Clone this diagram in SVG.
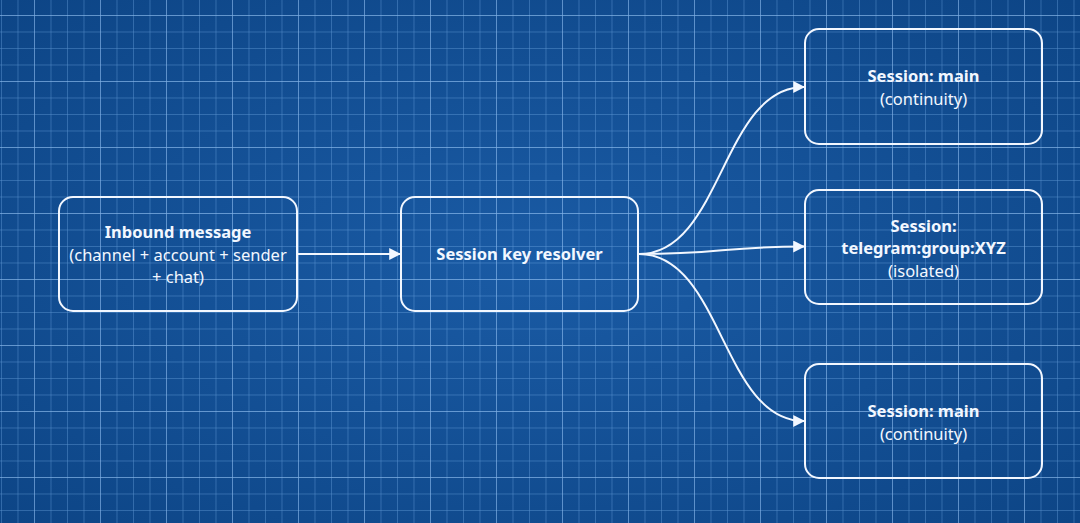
<svg xmlns="http://www.w3.org/2000/svg" width="1080" height="523" viewBox="0 0 1080 523">
  <defs>
    <radialGradient id="bg" cx="50%" cy="50%" r="70%">
      <stop offset="0" stop-color="#1a5ba5"/>
      <stop offset="1" stop-color="#0d4586"/>
    </radialGradient>
    <pattern id="minor" x="1" y="-1.5" width="16.5" height="16.5" patternUnits="userSpaceOnUse">
      <path d="M0,0 V16.5 M0,0 H16.5" fill="none" stroke="#86bcf5" stroke-opacity="0.6" stroke-width="1"/>
    </pattern>
    <pattern id="major" x="34" y="15" width="66" height="66" patternUnits="userSpaceOnUse">
      <path d="M0,0 V66 M0,0 H66" fill="none" stroke="#a6cffa" stroke-opacity="0.55" stroke-width="1.3"/>
    </pattern>
    <marker id="arrow" viewBox="0 0 10 10" refX="9" refY="5" markerWidth="12" markerHeight="12" markerUnits="userSpaceOnUse" orient="auto">
      <path d="M0,0 L10,5 L0,10 Z" fill="#f2f7ff"/>
    </marker>
    <style>
      .box { fill: none; stroke: #f2f7ff; stroke-width: 2; }
      .t { font-family: "Noto Sans", "Open Sans", sans-serif; font-size: 16.5px; fill: #f2f7ff; text-anchor: middle; }
      .b { font-weight: bold; }
      .edge { fill: none; stroke: #f2f7ff; stroke-width: 2; marker-end: url(#arrow); }
    </style>
  </defs>
  <rect width="1080" height="523" fill="url(#bg)"/>
  <rect width="1080" height="523" fill="url(#minor)"/>
  <rect width="1080" height="523" fill="url(#major)"/>

  <g id="connectors">
    <path class="edge" d="M297,254 L400,254"/>
    <path class="edge" d="M639,254 C722,254 722,87 804,87"/>
    <path class="edge" d="M639,254 C722,254 722,246.5 804,246.5"/>
    <path class="edge" d="M639,254 C722,254 722,421 804,421"/>
  </g>

  <g id="inbound">
    <rect class="box" x="59" y="197" width="238" height="114" rx="14"/>
    <text class="t b" x="178" y="238">Inbound message</text>
    <text class="t" x="178" y="261">(channel + account + sender</text>
    <text class="t" x="178" y="283">+ chat)</text>
  </g>

  <g id="resolver">
    <rect class="box" x="401" y="197" width="237" height="114" rx="14"/>
    <text class="t b" x="519.5" y="260">Session key resolver</text>
  </g>

  <g id="session-main-top">
    <rect class="box" x="805" y="29" width="237" height="115" rx="14"/>
    <text class="t b" x="923.5" y="82">Session: main</text>
    <text class="t" x="923.5" y="105">(continuity)</text>
  </g>

  <g id="session-group">
    <rect class="box" x="805" y="190" width="237" height="114" rx="14"/>
    <text class="t b" x="923.5" y="232">Session:</text>
    <text class="t b" x="923.5" y="254">telegram:group:XYZ</text>
    <text class="t" x="923.5" y="277">(isolated)</text>
  </g>

  <g id="session-main-bottom">
    <rect class="box" x="805" y="364" width="237" height="114" rx="14"/>
    <text class="t b" x="923.5" y="417">Session: main</text>
    <text class="t" x="923.5" y="440">(continuity)</text>
  </g>
</svg>
